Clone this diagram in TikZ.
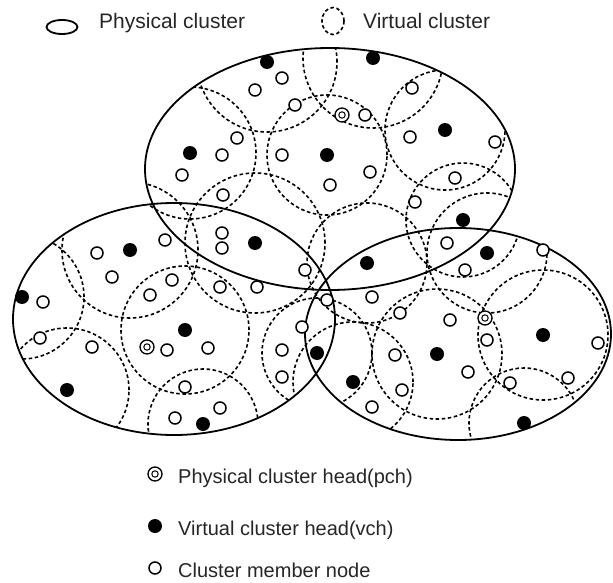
\documentclass[tikz,border=0pt]{standalone}
\usepackage{fontspec}
\setmainfont{Liberation Sans}
\usepackage{tikz}
\usetikzlibrary{shapes.geometric}

\begin{document}
\begin{tikzpicture}[
    x=1pt, y=-1pt,
    phys/.style={line width=1.8pt},
    virt/.style={line width=1.6pt, dash pattern=on 3.5pt off 2.6pt},
    member/.style={circle, draw, fill=white, line width=1.5pt, minimum size=12pt, inner sep=0pt},
    vch/.style={circle, fill=black, minimum size=14pt, inner sep=0pt},
    pch/.style={circle, draw, fill=white, line width=1.3pt, minimum size=14pt, inner sep=0pt,
        path picture={\draw[line width=1pt] (path picture bounding box.center) circle[radius=3.2pt];}},
    legtop/.style={font=\fontsize{21}{24}\selectfont, text=black!85, anchor=base west, inner sep=0pt},
    legbot/.style={font=\fontsize{20}{24}\selectfont, text=black!85, anchor=base west, inner sep=0pt},
]
\useasboundingbox (0,0) rectangle (613,583);

% Legend (top)
\node[ellipse, draw, phys, minimum width=31pt, minimum height=14pt, inner sep=0pt] (physsym) at (62,27) {};
\node[legtop] (physlbl) at (99,28.5) {Physical cluster};
\node[ellipse, draw, virt, minimum width=22pt, minimum height=27pt, inner sep=0pt] (virtsym) at (333,21) {};
\node[legtop] (virtlbl) at (363,28.5) {Virtual cluster};

% Virtual clusters (dashed), kept inside the physical ones
\begin{scope}
\clip (330,169) ellipse[x radius=185pt, y radius=121pt]
      (174,319) ellipse[x radius=161pt, y radius=116pt]
      (458,334) ellipse[x radius=153pt, y radius=106pt];
\foreach \cx/\cy/\r in {267/62/70, 373/58/70, 190/153/66, 327/155/60, 445/130/60,
        463/220/57, 367/263/60, 255/243/70,
        130/250/68, 22/297/62, 185/330/64, 67/390/62, 203/424/55,
        317/353/55, 353/382/60, 437/354/65, 487/253/60, 543/335/65, 524/423/55}
    \draw[virt] (\cx,\cy) circle[radius=\r pt];
\end{scope}

% Physical clusters
\draw[phys] (330,169) ellipse[x radius=185pt, y radius=121pt];
\draw[phys] (174,319) ellipse[x radius=161pt, y radius=116pt];
\draw[phys] (458,334) ellipse[x radius=153pt, y radius=106pt];

% Cluster member nodes
\foreach \x/\y [count=\i] in {282/78, 255/90, 295/105, 365/115, 237/138, 222/155, 282/155,
        182/175, 330/185, 370/172, 223/195, 222/233, 222/248, 165/240, 305/270, 172/280,
        220/287, 257/287, 412/88, 410/137, 495/142, 455/178, 415/202, 447/243, 543/250,
        465/270, 400/313, 450/320, 487/340, 395/355, 598/343, 468/372, 568/378, 510/383,
        402/390, 372/297, 327/300, 302/327, 372/407,
        208/348, 282/350, 282/377, 185/387, 220/408, 97/253, 112/277, 43/302, 150/295,
        40/338, 92/347, 167/350, 175/418}
    \node[member] (m\i) at (\x,\y) {};

% Virtual cluster heads
\foreach \x/\y [count=\i] in {267/62, 373/58, 190/153, 327/155, 445/130, 463/220, 367/263,
        255/243, 130/250, 22/297, 185/330, 67/390, 203/424,
        317/353, 353/382, 437/354, 487/253, 543/335, 524/423}
    \node[vch] (v\i) at (\x,\y) {};

% Physical cluster heads
\node[pch] (p1) at (342,115) {};
\node[pch] (p2) at (147,347) {};
\node[pch] (p3) at (485,318) {};

% Legend (bottom)
\node[pch] (legpch) at (155,474) {};
\node[legbot] (pchlbl) at (178,483) {Physical cluster head(pch)};
\node[vch] (legvch) at (155,526) {};
\node[legbot] (vchlbl) at (178,535) {Virtual cluster head(vch)};
\node[member] (legmem) at (155,568) {};
\node[legbot] (memlbl) at (178,577) {Cluster member node};

\end{tikzpicture}
\end{document}
